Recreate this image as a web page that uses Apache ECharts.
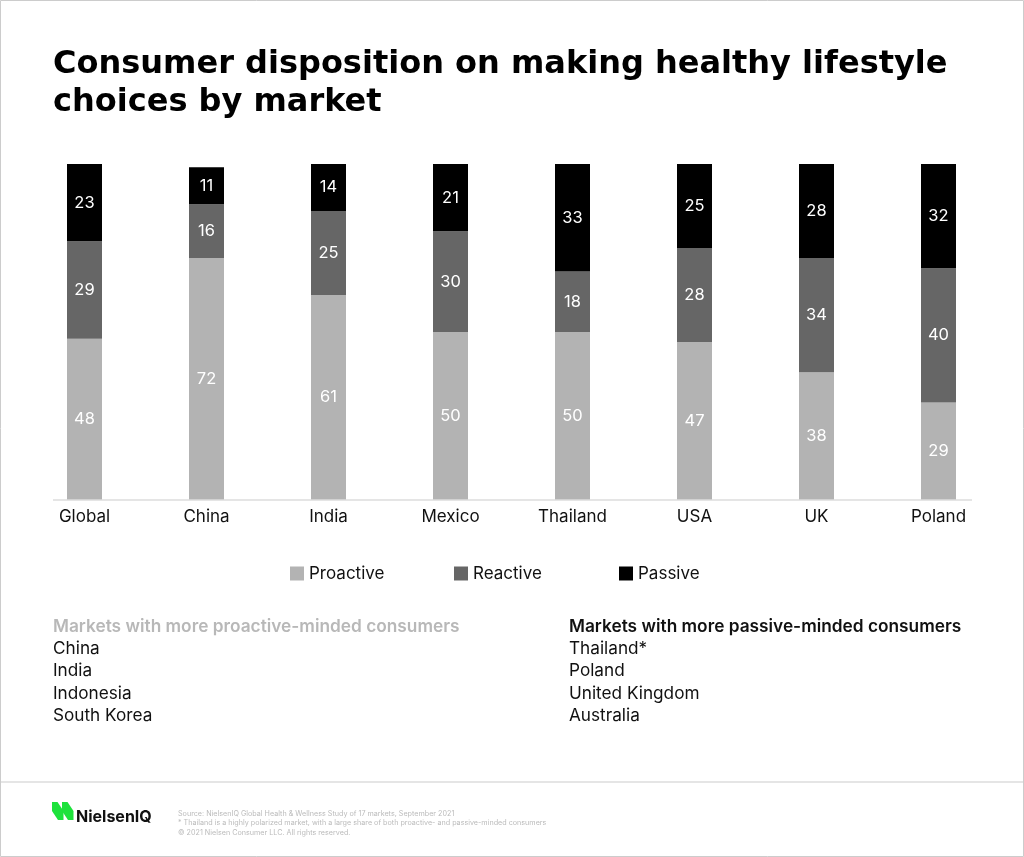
<!DOCTYPE html>
<html>
<head>
<meta charset="utf-8">
<script src="https://cdn.jsdelivr.net/npm/echarts@6/dist/echarts.min.js"></script>
<style>
html,body{margin:0;padding:0;background:#fff;}
#chart{width:1024px;height:857px;}
</style>
</head>
<body>
<div id="chart"></div>
<script>
const categories = ['Global','China','India','Mexico','Thailand','USA','UK','Poland'];
const proactive = [48,72,61,50,50,47,38,29];
const reactive = [29,16,25,30,18,28,34,40];
const passive = [23,11,14,21,33,25,28,32];
const seriesNames = ['Proactive','Reactive','Passive'];
const proactiveMarkets = ['China','India','Indonesia','South Korea'];
const passiveMarkets = ['Thailand*','Poland','United Kingdom','Australia'];
const footnotes = [
  'Source: NielsenIQ Global Health & Wellness Study of 17 markets, September 2021',
  '* Thailand is a highly polarized market, with a large share of both proactive- and passive-minded consumers',
  '\u00A9 2021 Nielsen Consumer LLC. All rights reserved.'
];

const FONT = 'Inter, "Noto Sans", sans-serif';
const colors = ['#b3b3b3','#666666','#000000'];
const legendLefts = [290, 454, 619];

const chart = echarts.init(document.getElementById('chart'));

function listText(items, x, y0, headColor, head) {
  const els = [{
    type:'text',
    style:{x:x, y:y0, text:head, fill:headColor, font:'600 17.3px ' + FONT, verticalAlign:'middle'}
  }];
  items.forEach((t,i)=>{
    els.push({type:'text',
      style:{x:x, y:y0+21.5+i*22.6, text:t, fill:'#111', font:'17.2px ' + FONT, verticalAlign:'middle'}});
  });
  return els;
}

const graphics = [
  {type:'rect', shape:{x:0.5,y:0.5,width:1023,height:856}, style:{fill:'none', stroke:'#cccccc', lineWidth:1}, silent:true},
  {type:'line', shape:{x1:53,y1:500,x2:972,y2:500}, style:{stroke:'#dddddd', lineWidth:1.5}, z:10},
  {type:'line', shape:{x1:1,y1:782,x2:1023,y2:782}, style:{stroke:'#dddddd', lineWidth:1.5}},
  {type:'polygon', shape:{points:[[52,802],[57.5,802],[63.5,811],[63.5,820],[58,820],[52,811]]}, style:{fill:'#1de23b'}},
  {type:'polygon', shape:{points:[[62,802],[67.5,802],[73.5,811],[73.5,820],[68,820],[62,811]]}, style:{fill:'#1de23b'}},
  {type:'text', style:{x:76, y:817, text:'NielsenIQ', fill:'#111', font:'bold 16px ' + FONT, verticalAlign:'middle'}}
];
footnotes.forEach((t,i)=>{
  graphics.push({type:'text', style:{x:178, y:813.5+i*9.6, text:t, fill:'#bbbbbb', font:'7.2px ' + FONT, verticalAlign:'middle'}});
});
graphics.push(...listText(proactiveMarkets, 53, 627, '#b8b8b8', 'Markets with more proactive-minded consumers'));
graphics.push(...listText(passiveMarkets, 569, 627, '#111111', 'Markets with more passive-minded consumers'));

const dataSets = [proactive, reactive, passive];

chart.setOption({
  backgroundColor:'#ffffff',
  animation:false,
  title:{
    text:'Consumer disposition on making healthy lifestyle\nchoices by market',
    left:53, top:46, padding:0,
    textStyle:{fontFamily:'"DejaVu Sans", sans-serif', fontWeight:'bold', fontSize:32, lineHeight:38, color:'#000'}
  },
  legend: seriesNames.map((n,i)=>({
    data:[n],
    left:legendLefts[i], top:565, padding:0,
    itemWidth:14, itemHeight:14,
    icon:'rect',
    textStyle:{fontFamily:FONT, fontSize:17, color:'#111'}
  })),
  grid:{left:23.5, right:24.5, top:164, bottom:357, containLabel:false},
  xAxis:{
    type:'category', data:categories,
    axisLine:{show:false}, axisTick:{show:false},
    axisLabel:{fontFamily:FONT, fontSize:17, color:'#111', margin:8}
  },
  yAxis:{type:'value', min:0, max:100, show:false, splitLine:{show:false}},
  series: seriesNames.map((n,i)=>({
    name:n, type:'bar', stack:'total', barWidth:35,
    data:dataSets[i], clip:true,
    itemStyle:{color:colors[i]},
    label:{show:true, position:'inside', color:'#fff', fontFamily:FONT, fontSize:16.5}
  })),
  graphic:graphics
});
</script>
</body>
</html>
